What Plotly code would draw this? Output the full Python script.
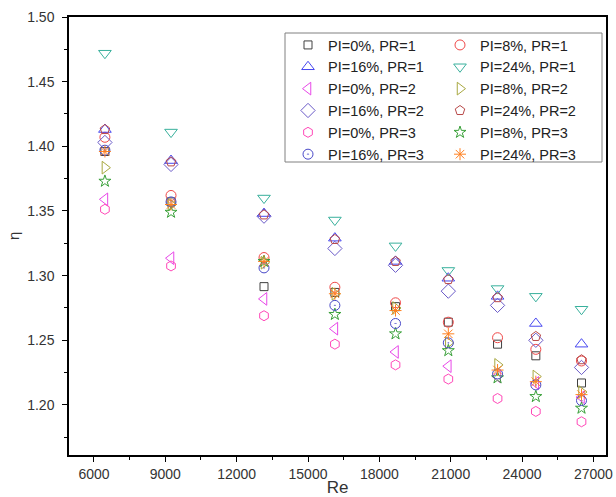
import plotly.graph_objects as go

re_vals = [6460, 9240, 13150, 16130, 18680, 20900, 22970, 24580, 26500]

series_names = [
    "PI=0%, PR=1", "PI=8%, PR=1",
    "PI=16%, PR=1", "PI=24%, PR=1",
    "PI=0%, PR=2", "PI=8%, PR=2",
    "PI=16%, PR=2", "PI=24%, PR=2",
    "PI=0%, PR=3", "PI=8%, PR=3",
    "PI=16%, PR=3", "PI=24%, PR=3",
]

pi0_pr1 = [1.396, 1.357, 1.2915, 1.287, 1.276, 1.264, 1.247, 1.238, 1.217]
pi8_pr1 = [1.407, 1.362, 1.314, 1.291, 1.279, 1.264, 1.252, 1.243, 1.234]
pi16_pr1 = [1.413, 1.389, 1.348, 1.329, 1.311, 1.298, 1.284, 1.263, 1.247]
pi24_pr1 = [1.472, 1.411, 1.360, 1.343, 1.323, 1.304, 1.290, 1.284, 1.274]
pi0_pr2 = [1.359, 1.3135, 1.282, 1.259, 1.241, 1.230, 1.222, 1.217, 1.206]
pi8_pr2 = [1.3835, 1.355, 1.310, 1.286, 1.275, 1.248, 1.231, 1.222, 1.210]
pi16_pr2 = [1.403, 1.386, 1.346, 1.321, 1.308, 1.288, 1.277, 1.250, 1.229]
pi24_pr2 = [1.413, 1.388, 1.347, 1.328, 1.311, 1.297, 1.283, 1.253, 1.235]
pi0_pr3 = [1.3513, 1.3075, 1.269, 1.247, 1.231, 1.220, 1.205, 1.195, 1.187]
pi8_pr3 = [1.373, 1.349, 1.311, 1.270, 1.255, 1.242, 1.221, 1.2065, 1.1975]
pi16_pr3 = [1.397, 1.357, 1.306, 1.277, 1.263, 1.248, 1.224, 1.2155, 1.2034]
pi24_pr3 = [1.396, 1.355, 1.311, 1.286, 1.273, 1.255, 1.227, 1.218, 1.208]

all_series = [pi0_pr1, pi8_pr1, pi16_pr1, pi24_pr1,
              pi0_pr2, pi8_pr2, pi16_pr2, pi24_pr2,
              pi0_pr3, pi8_pr3, pi16_pr3, pi24_pr3]

symbols = ["square-open", "circle-open", "triangle-up-open", "triangle-down-open",
           "triangle-left-open", "triangle-right-open", "diamond-open", "pentagon-open",
           "hexagon-open", "star-open", "circle-open-dot", "asterisk-open"]
colors = ["#404040", "#f04848", "#4848f0", "#38b09c",
          "#e848e8", "#a8a840", "#6a5ac8", "#b84848",
          "#ff48b8", "#38a038", "#4848c8", "#ff8020"]
sizes = [8, 10, 11, 11, 11, 11, 11, 10, 10, 9, 10, 10]

x_ticks = [6000, 9000, 12000, 15000, 18000, 21000, 24000, 27000]
y_ticks = [1.20, 1.25, 1.30, 1.35, 1.40, 1.45, 1.50]

fig = go.Figure()
for i, (name, vals, sym, col, sz) in enumerate(zip(series_names, all_series, symbols, colors, sizes)):
    fig.add_trace(go.Scatter(
        x=re_vals, y=vals, mode="markers", name=name,
        legend="legend" if i % 2 == 0 else "legend2",
        marker=dict(symbol=sym, size=sz, color=col, line=dict(color=col, width=1)),
    ))

axis_common = dict(
    showline=True, linecolor="black", linewidth=1.5, mirror=True,
    ticks="outside", ticklen=5, tickwidth=1.2, tickcolor="black",
    showgrid=False, zeroline=False, automargin=False,
    tickfont=dict(family="Liberation Sans, Arial", size=14, color="#333333"),
)

fig.update_xaxes(
    range=[4950, 27530], tickvals=x_ticks, ticktext=[str(v) for v in x_ticks],
    title=dict(text="Re", font=dict(family="Liberation Sans, Arial", size=17, color="#333333"), standoff=2),
    minor=dict(tickvals=[7500, 10500, 13500, 16500, 19500, 22500, 25500], ticks="outside", ticklen=3, tickcolor="black"),
    **axis_common,
)
fig.update_yaxes(
    range=[1.1613, 1.50], tickvals=y_ticks, ticktext=[f"{v:.2f}" for v in y_ticks],
    ticklabelstandoff=5,
    minor=dict(tickvals=[1.175, 1.225, 1.275, 1.325, 1.375, 1.425, 1.475], ticks="outside", ticklen=3, tickcolor="black"),
    **axis_common,
)

fig.add_annotation(
    text="η", xref="paper", yref="paper", x=-56 / 537, y=0.5,
    xanchor="center", yanchor="middle", showarrow=False, textangle=-90,
    font=dict(family="Liberation Sans, Arial", size=15, color="#333333"),
)

# legend frame enclosing both legend columns
fig.add_shape(
    type="rect", xref="paper", yref="paper",
    x0=(285 - 69) / 537, x1=(602 - 69) / 537,
    y0=1 - (162 - 17) / 438, y1=1 - (33 - 17) / 438,
    line=dict(color="#808080", width=1), fillcolor="white", layer="below",
)

legend_font = dict(family="Liberation Sans, Arial", size=14.5, color="#222222")
fig.update_layout(
    width=616, height=497,
    margin=dict(l=69, r=10, t=17, b=42),
    paper_bgcolor="white", plot_bgcolor="white",
    legend=dict(
        orientation="v", x=(288 - 69) / 537, xanchor="left", y=1 - (29 - 17) / 438, yanchor="top",
        bgcolor="rgba(0,0,0,0)", borderwidth=0, font=legend_font, traceorder="normal",
    ),
    legend2=dict(
        orientation="v", x=(440 - 69) / 537, xanchor="left", y=1 - (29 - 17) / 438, yanchor="top",
        bgcolor="rgba(0,0,0,0)", borderwidth=0, font=legend_font, traceorder="normal",
    ),
    showlegend=True,
)

fig.write_html("out.html", post_script="document.body.style.margin='0';",
               config={"displayModeBar": False})
